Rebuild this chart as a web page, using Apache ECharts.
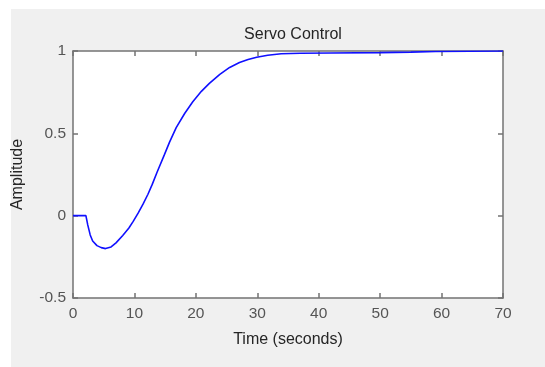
<!DOCTYPE html>
<html>
<head>
<meta charset="utf-8">
<script src="https://cdn.jsdelivr.net/npm/echarts@6/dist/echarts.min.js"></script>
<style>
html,body{margin:0;padding:0;background:#fff;}
#chart{width:545px;height:367px;}
</style>
</head>
<body>
<div id="chart"></div>
<script>
var titleText = 'Servo Control';
var xName = 'Time (seconds)';
var yName = 'Amplitude';
var times  = [0, 2.1, 2.4, 2.8, 3.2, 3.9, 4.6, 5.3, 6.2, 7.0, 8.1, 9.1, 9.8, 10.6, 11.4, 12.2, 12.9, 13.7, 14.9, 15.7, 16.8, 18.2, 19.5, 20.9, 22.2, 23.9, 25.5, 27.1, 28.5, 29.9, 31.7, 33.9, 37, 42, 50, 55, 59, 70];
var values = [0, 0, -0.056, -0.117, -0.154, -0.182, -0.194, -0.2, -0.19, -0.165, -0.12, -0.075, -0.035, 0.015, 0.07, 0.13, 0.19, 0.265, 0.372, 0.445, 0.535, 0.622, 0.692, 0.755, 0.803, 0.858, 0.9, 0.93, 0.948, 0.962, 0.974, 0.983, 0.986, 0.988, 0.99, 0.993, 0.997, 1.0];
var xTicks = {min: 0, max: 70, interval: 10};
var yTicks = {min: -0.5, max: 1, interval: 0.5};

var FONT = '"Liberation Sans", Arial, sans-serif';
var AXIS_COLOR = '#737373';
var LABEL_COLOR = '#555555';

var chart = echarts.init(document.getElementById('chart'), null, {renderer: 'canvas'});
var pts = times.map(function (t, i) { return [t, values[i]]; });

function xAx(pos, showLabel) {
  return {
    type: 'value', position: pos, min: xTicks.min, max: xTicks.max, interval: xTicks.interval,
    name: showLabel ? xName : '', nameLocation: 'middle', nameGap: 34,
    nameTextStyle: {fontFamily: FONT, fontSize: 16, color: '#262626'},
    axisLine: {show: true, onZero: false, lineStyle: {color: AXIS_COLOR, width: 1.5}},
    axisTick: {show: true, inside: true, length: 5, lineStyle: {color: AXIS_COLOR, width: 1.5}},
    axisLabel: {show: showLabel, margin: 8, fontFamily: FONT, fontSize: 15.5, color: LABEL_COLOR},
    splitLine: {show: false}
  };
}
function yAx(pos, showLabel) {
  return {
    type: 'value', position: pos, min: yTicks.min, max: yTicks.max, interval: yTicks.interval,
    name: showLabel ? yName : '', nameLocation: 'middle', nameGap: 47,
    nameTextStyle: {fontFamily: FONT, fontSize: 16, color: '#262626'},
    axisLine: {show: true, onZero: false, lineStyle: {color: AXIS_COLOR, width: 1.5}},
    axisTick: {show: true, inside: true, length: 5, lineStyle: {color: AXIS_COLOR, width: 1.5}},
    axisLabel: {show: showLabel, margin: 7, fontFamily: FONT, fontSize: 15.5, color: LABEL_COLOR},
    splitLine: {show: false}
  };
}

chart.setOption({
  backgroundColor: '#ffffff',
  animation: false,
  graphic: [{
    type: 'rect', z: -10, silent: true,
    shape: {x: 11, y: 9, width: 534, height: 358},
    style: {fill: '#f0f0f0'}
  }],
  title: {
    text: titleText, left: 288, top: 22, textAlign: 'center',
    textStyle: {fontFamily: FONT, fontSize: 16, fontWeight: 'normal', color: '#262626'}
  },
  grid: {left: 73, right: 42, top: 51, bottom: 69, show: true, backgroundColor: '#ffffff', borderWidth: 0, containLabel: false},
  xAxis: [xAx('bottom', true), xAx('top', false)],
  yAxis: [yAx('left', true), yAx('right', false)],
  series: [{
    type: 'line', xAxisIndex: 0, yAxisIndex: 0, data: pts,
    showSymbol: false, smooth: false,
    lineStyle: {color: '#1010ff', width: 1.6},
    z: 1
  }]
});
</script>
</body>
</html>
